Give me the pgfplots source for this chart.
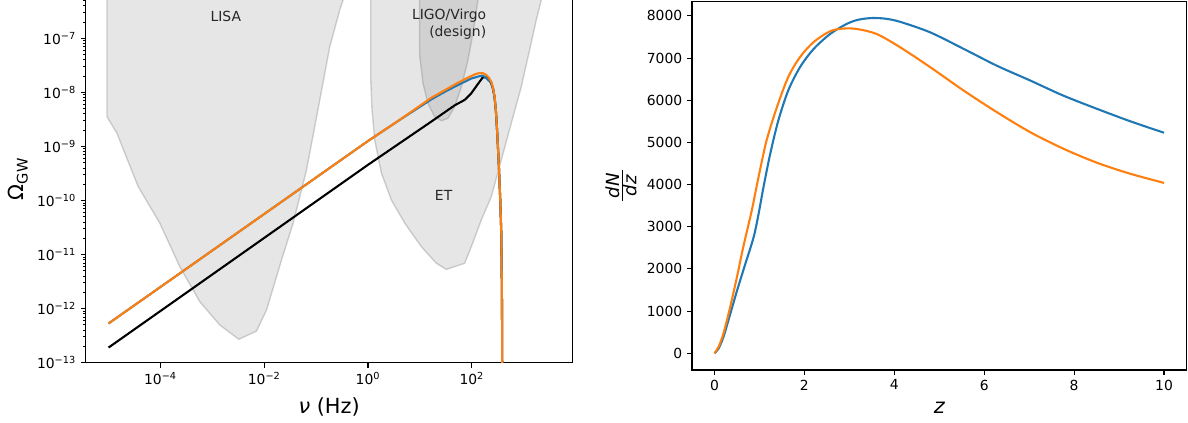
\documentclass[border=0pt]{standalone}
\usepackage{pgfplots}
\pgfplotsset{compat=1.18}
\usepackage{fontspec}
\setmainfont{DejaVu Sans}
\definecolor{mplblue}{HTML}{1F77B4}
\definecolor{mplorange}{HTML}{FF7F0E}
\pgfplotsset{
  mplstyle/.style={
    scale only axis,
    axis line style={line width=0.8pt},
    tick align=outside,
    tick pos=left,
    major tick length=3.5pt,
    minor tick length=2pt,
    every tick/.style={black, line width=0.8pt},
    every minor tick/.style={black, line width=0.6pt},
    tick label style={font=\fontsize{10}{12}\selectfont},
    label style={font=\fontsize{15}{18}\selectfont},
  },
  region/.style={fill=gray, fill opacity=0.2, draw=gray, draw opacity=0.35, line width=1pt},
}
\begin{document}
\begin{tikzpicture}
\useasboundingbox (0,0) rectangle (855.36pt,304.56pt);
\clip (0,0) rectangle (855.36pt,304.56pt);
% ---------------- left panel ----------------
\begin{axis}[mplstyle,
  at={(61.70pt,43.42pt)}, anchor=south west,
  width=350.5pt, height=264.74pt,
  xmode=log, ymode=log,
  xmin=3.63e-6, xmax=8710,
  ymin=1e-13, ymax=6.31e-7,
  xtick={1e-4,1e-2,1,100},
  xticklabels={10\textsuperscript{−4},10\textsuperscript{−2},10\textsuperscript{0},10\textsuperscript{2}},
  minor xtick={},
  ytick={1e-13,1e-12,1e-11,1e-10,1e-9,1e-8,1e-7},
  yticklabels={10\textsuperscript{−13},10\textsuperscript{−12},10\textsuperscript{−11},10\textsuperscript{−10},10\textsuperscript{−9},10\textsuperscript{−8},10\textsuperscript{−7}},
  minor ytick={2e-13,3e-13,4e-13,5e-13,6e-13,7e-13,8e-13,9e-13,
    2e-12,3e-12,4e-12,5e-12,6e-12,7e-12,8e-12,9e-12,
    2e-11,3e-11,4e-11,5e-11,6e-11,7e-11,8e-11,9e-11,
    2e-10,3e-10,4e-10,5e-10,6e-10,7e-10,8e-10,9e-10,
    2e-9,3e-9,4e-9,5e-9,6e-9,7e-9,8e-9,9e-9,
    2e-8,3e-8,4e-8,5e-8,6e-8,7e-8,8e-8,9e-8,
    2e-7,3e-7,4e-7,5e-7,6e-7},
  xlabel={{\itshape ν} (Hz)},
  ylabel={Ω\textsubscript{GW}},
  xlabel style={at={(axis description cs:0.5,-0.1205)}, anchor=center},
  ylabel style={at={(axis description cs:-0.139,0.5)}, anchor=center},
]
% LISA
\addplot[region] coordinates {(9.33e-6,1e-6) (9.33e-6,3.55e-9) (1.435e-5,1.795e-9) (3.74e-5,1.799e-10) (9.77e-5,3.785e-11) (2.366e-4,5.96e-12) (5.74e-4,1.343e-12) (1.393e-3,4.977e-13) (3.236e-3,2.71e-13) (7.11e-3,3.855e-13) (1.107e-2,9.44e-13) (2.153e-2,7.94e-12) (3.597e-2,3.785e-11) (6.52e-2,3.66e-10) (0.1175,7.21e-9) (0.1832,6.98e-8) (0.2851,3.33e-7) (0.3304,5.13e-7) (0.415,1e-6) (9.33e-6,1e-6)};
% ET
\addplot[region] coordinates {(1.127,1e-6) (1.127,1.82e-8) (1.194,4.72e-9) (1.346,1.315e-9) (1.811,3.22e-10) (2.818,1.021e-10) (5.08,3.837e-11) (10.67,1.396e-11) (20.75,6.89e-12) (32.28,5.33e-12) (72.6,6.89e-12) (97.7,1.396e-11) (152.4,4.36e-11) (237.1,1.175e-10) (369.8,5.61e-10) (575.4,2.68e-9) (897.5,1.27e-8) (1297,6.07e-8) (1746,2.18e-7) (2178,5.1e-7) (2594,1e-6) (1.127,1e-6)};
% LIGO/Virgo
\addplot[region] coordinates {(9.886,1e-6) (9.886,4.91e-8) (11.46,1.469e-8) (14.29,6.27e-9) (19.23,3.55e-9) (25.88,2.99e-9) (34.67,3.31e-9) (46.67,5.43e-9) (62.8,1.27e-8) (84.1,3.96e-8) (105,1.236e-7) (130.9,5.1e-7) (145.5,1e-6) (9.886,1e-6)};
% black
\addplot[black, line width=1.5pt] coordinates {(1e-5,1.905e-13) (1,4.57e-10) (16.6,2.88e-9) (46.8,5.75e-9) (72.6,7.24e-9) (97.7,9.62e-9) (131,1.426e-8) (163.7,1.905e-8) (190.1,1.9e-8) (213.8,1.74e-8) (237.1,1.45e-8) (257,1.15e-8) (274.8,8.0e-9) (291.7,4.4e-9) (309,1.75e-9) (332.7,4.2e-10) (353.2,1.0e-10) (369.8,2.45e-11) (380.2,2.2e-12) (389,1e-14)};
% blue
\addplot[mplblue, line width=1.5pt] coordinates {(1e-5,5.31e-13) (1,1.26e-9) (3.78,2.95e-9) (16.6,7.41e-9) (31.6,1.047e-8) (54.0,1.365e-8) (97.7,1.80e-8) (141.3,1.995e-8) (158.5,2.04e-8) (177.8,1.95e-8) (199.5,1.74e-8) (237.1,1.50e-8) (257,1.15e-8) (274.8,8.0e-9) (291.7,4.47e-9) (309,1.75e-9) (332.7,4.22e-10) (353.2,1.023e-10) (369.8,2.47e-11) (380.2,2.19e-12) (389,1e-14)};
% orange
\addplot[mplorange, line width=1.5pt] coordinates {(1e-5,5.31e-13) (1,1.26e-9) (3.78,2.95e-9) (16.6,7.94e-9) (31.6,1.122e-8) (54.0,1.507e-8) (97.7,2.005e-8) (120.2,2.188e-8) (141.3,2.28e-8) (166.0,2.25e-8) (190.1,2.094e-8) (213.8,1.862e-8) (237.1,1.574e-8) (257,1.202e-8) (274.8,8.32e-9) (291.7,4.47e-9) (309,1.75e-9) (332.7,4.22e-10) (353.2,1.023e-10) (369.8,2.47e-11) (380.2,2.19e-12) (389,1e-14)};
\node[font=\fontsize{10}{12}\selectfont, text=black!85] at (axis cs:1.82e-3,2.58e-7) {LISA};
\node[font=\fontsize{10}{12}\selectfont, text=black!85, align=right, anchor=east] at (axis cs:235,1.84e-7) {LIGO/Virgo\\(design)};
\node[font=\fontsize{10}{12}\selectfont, text=black!85] at (axis cs:28.6,1.227e-10) {ET};
\end{axis}
% ---------------- right panel ----------------
\begin{axis}[mplstyle,
  at={(498.24pt,38.16pt)}, anchor=south west,
  width=356.04pt, height=265.46pt,
  xmin=-0.5, xmax=10.5, ymin=-397, ymax=8347,
  xtick={0,2,4,6,8,10},
  ytick={0,1000,2000,3000,4000,5000,6000,7000,8000},
  scaled x ticks=false, scaled y ticks=false,
  /pgf/number format/assume math mode=true,
  /pgf/number format/1000 sep={},
  xlabel={\itshape z},
  ylabel={$\frac{\hbox{\fontsize{13}{13}\selectfont\itshape\,dN\,}}{\hbox{\fontsize{13}{13}\selectfont\itshape\,dz\,}}$},
  xlabel style={at={(axis description cs:0.5,-0.103)}, anchor=center},
  ylabel style={at={(axis description cs:-0.1436,0.5)}, anchor=center},
]
\addplot[mplblue, line width=1.5pt, smooth] coordinates {(0,0) (0.09,110) (0.2,390) (0.35,930) (0.5,1480) (0.68,2100) (0.87,2750) (0.98,3300) (1.09,3940) (1.24,4730) (1.42,5520) (1.64,6230) (1.9,6780) (2.2,7210) (2.57,7570) (2.94,7810) (3.2,7910) (3.5,7950) (3.8,7935) (4.13,7860) (4.8,7610) (5.54,7220) (6.28,6820) (7.02,6470) (7.76,6110) (8.5,5800) (9.24,5505) (10,5230)};
\addplot[mplorange, line width=1.5pt, smooth] coordinates {(0,0) (0.09,150) (0.2,470) (0.35,1100) (0.5,1810) (0.64,2520) (0.83,3390) (0.98,4180) (1.16,5050) (1.39,5840) (1.64,6550) (1.9,7020) (2.2,7375) (2.57,7636) (2.87,7700) (3.17,7690) (3.61,7570) (4.13,7257) (4.8,6784) (5.54,6232) (6.28,5718) (7.02,5245) (7.76,4852) (8.5,4521) (9.24,4260) (10,4040)};
\end{axis}
\end{tikzpicture}
\end{document}
